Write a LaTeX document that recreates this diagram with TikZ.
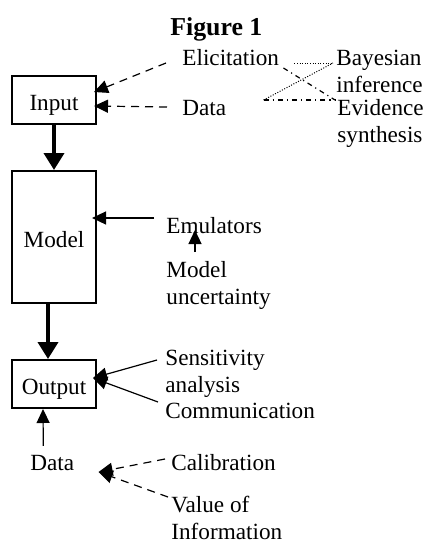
\documentclass[tikz,border=0pt]{standalone}
\usepackage{fontspec}
\setmainfont{Liberation Serif}
\usetikzlibrary{arrows.meta}

\begin{document}
\begin{tikzpicture}[x=0.5pt,y=-0.5pt,line join=miter]
  \tikzstyle{box}=[draw,line width=1pt,minimum width=42pt,inner sep=0pt,
                   text height=13pt,text depth=2.4pt,
                   font=\fontsize{11.6}{13.5}\selectfont]
  \tikzstyle{lbl}=[anchor=base west,inner sep=0pt,align=left,
                   font=\fontsize{11.6}{13.5}\selectfont]
  \tikzstyle{tip}=[-{Triangle[length=7pt,width=6.5pt]},line width=0.6pt]
  \tikzstyle{bigtip}=[-{Triangle[length=8.5pt,width=10pt]},line width=1.9pt]
  \tikzstyle{dashline}=[dash pattern=on 4pt off 3pt]
  \tikzstyle{dotline}=[line width=0.5pt,dash pattern=on 0.5pt off 0.8pt]
  \tikzstyle{dashdotline}=[line width=0.6pt,dash pattern=on 2.5pt off 2pt on 0.6pt off 2pt]

  \useasboundingbox (0,0) rectangle (432,541);

  \node[anchor=base west,inner sep=0pt,font=\fontsize{12.9}{15}\selectfont\bfseries]
    (title) at (170,35) {Figure 1};

  \node[box,minimum height=24pt] (input)  at (54,100) {Input};
  \node[box,minimum height=66pt] (model)  at (54,237) {Model};
  \node[box,minimum height=24pt] (output) at (54,384) {Output};

  \node[lbl] (elic)    at (182,65)  {Elicitation};
  \node[lbl] (datain)  at (182,115) {Data};
  \node[lbl] (bayes)   at (336,92)  {Bayesian\\inference};
  \node[lbl] (evid)    at (337,142) {Evidence\\synthesis};
  \node[lbl] (emul)    at (166,233) {Emulators};
  \node[lbl] (unc)     at (166,304) {Model\\uncertainty};
  \node[lbl] (sens)    at (165,392) {Sensitivity\\analysis};
  \node[lbl] (comm)    at (165,418) {Communication};
  \node[lbl] (dataout) at (30,470)  {Data};
  \node[lbl] (calib)   at (171,470) {Calibration};
  \node[lbl] (voi)     at (171,539) {Value of\\Information};

  \draw[bigtip] (input.south) -- (model.north);
  \draw[bigtip] ([xshift=-3pt]model.south) -- ([xshift=-3pt]output.north);

  \draw[tip,dashline] ([xshift=-8pt,yshift=1pt]elic.base west) -- ([xshift=-1.5pt,yshift=4pt]input.east);
  \draw[tip,dashline] ([xshift=-7.5pt,yshift=4pt]datain.base west) -- ([xshift=-1.5pt,yshift=-3pt]input.east);

  \draw[dotline] ([xshift=7.5pt,yshift=1pt]elic.base east) -- ([xshift=-1.5pt,yshift=14.5pt]bayes.base west);
  \draw[dashdotline] ([xshift=2pt,yshift=-1.5pt]elic.base east) -- ([xshift=-1pt,yshift=21pt]evid.base west);
  \draw[dotline] ([xshift=18.5pt,yshift=7.5pt]datain.base east) -- ([xshift=-1.5pt,yshift=14.5pt]bayes.base west);
  \draw[dashdotline] ([xshift=18.5pt,yshift=7.5pt]datain.base east) -- ([xshift=-1pt,yshift=21pt]evid.base west);

  \draw[tip] ([xshift=-6pt,yshift=7.5pt]emul.base west) -- ([xshift=-2.5pt,yshift=9.5pt]model.east);
  \draw[tip,dashline] ([xshift=14.5pt,yshift=26pt]unc.base west) -- ([xshift=14.5pt,yshift=1.5pt]emul.base west);

  \draw[tip] ([xshift=-4pt,yshift=16pt]sens.base west) -- ([xshift=-2pt,yshift=3pt]output.east);
  \draw[tip] ([xshift=-3.5pt,yshift=8pt]comm.base west) -- ([xshift=-2pt,yshift=3pt]output.east);

  \draw[tip] ([xshift=-4.5pt,yshift=4.3pt]dataout.north) -- ([xshift=-5.5pt]output.south);

  \draw[tip,dashline] ([xshift=-3pt,yshift=5.5pt]calib.base west) -- ([xshift=12pt,yshift=-1pt]dataout.base east);
  \draw[tip,dashline] ([xshift=-1.5pt,yshift=21pt]voi.base west) -- ([xshift=12pt,yshift=-1pt]dataout.base east);
\end{tikzpicture}
\end{document}
